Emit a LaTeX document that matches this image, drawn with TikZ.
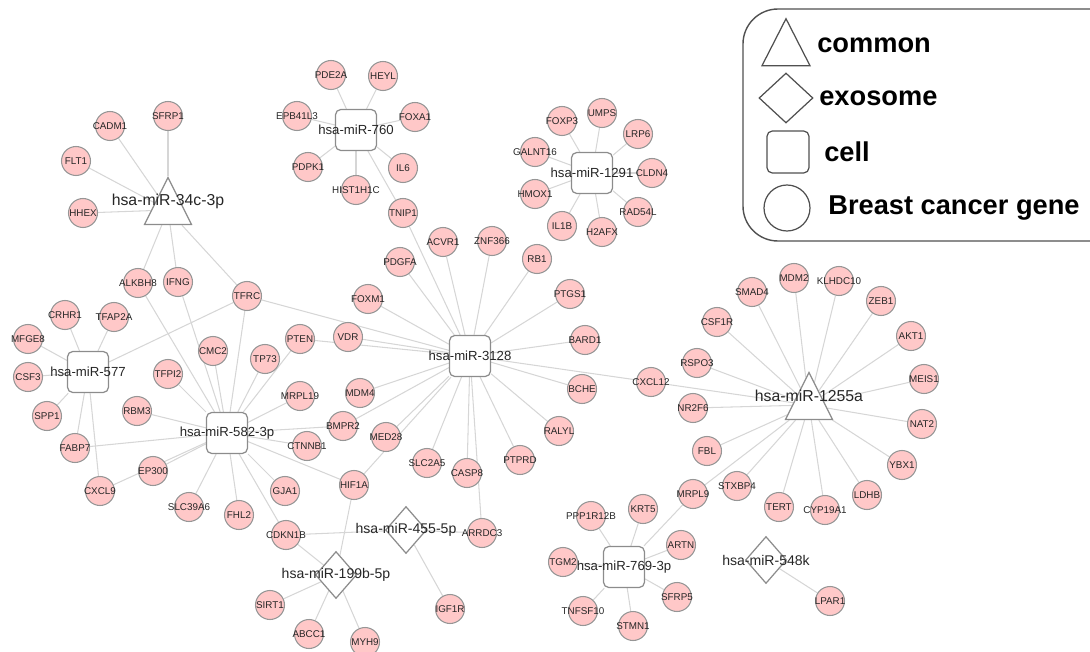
\documentclass[tikz,border=0pt]{standalone}
\usepackage{fontspec}
\setmainfont{Liberation Sans}
\usepackage{tikz}
\usetikzlibrary{shapes.geometric, backgrounds}

\definecolor{genfill}{RGB}{255,200,200}
\definecolor{genline}{RGB}{150,150,150}
\definecolor{tepi}{RGB}{214,214,214}
\definecolor{hubline}{RGB}{140,140,140}
\definecolor{legline}{RGB}{80,80,80}

\begin{document}
\begin{tikzpicture}[
		x=0.02cm, y=-0.02cm,
		gene/.style={circle, draw=genline, fill=genfill, line width=0.6pt, minimum size=0.58cm, inner sep=0pt, label={[gtext]center:#1}},
		gtext/.style={font=\fontsize{5.6}{6}\selectfont, text=black!85, inner sep=0pt},
		cellmir/.style={rectangle, draw=hubline, fill=white, rounded corners=3pt, minimum size=0.82cm, line width=0.7pt, label={[mtext, font=\fontsize{7.5}{8}\selectfont]center:#1}},
		exomir/.style={diamond, draw=hubline, fill=white, minimum width=0.82cm, minimum height=0.94cm, inner sep=0pt, line width=0.7pt, label={[mtext, font=\fontsize{8}{9}\selectfont]center:#1}},
		commonmir/.style={isosceles triangle, isosceles triangle stretches, shape border rotate=90, draw=hubline, fill=white, minimum width=0.94cm, minimum height=0.94cm, inner sep=0pt, line width=0.7pt, label={[mtext, yshift=0.18cm]center:#1}},
		mtext/.style={font=\fontsize{9}{10}\selectfont, text=black!85, inner sep=0pt},
		link/.style={draw=tepi, line width=0.6pt},
		legtext/.style={font=\fontsize{15.5}{16}\selectfont\bfseries, anchor=west, inner sep=0pt}
	]
	\useasboundingbox (0,0) rectangle (1090,652);
	\clip (0,0) rectangle (1090,652);

	% miRNA (hub)
	\node[commonmir=hsa-miR-34c-3p] (m34c) at (168,210) {};
	\node[commonmir=hsa-miR-1255a] (m1255a) at (809,405) {};
	\node[cellmir=hsa-miR-760] (m760) at (356,130) {};
	\node[cellmir=hsa-miR-1291] (m1291) at (592,173) {};
	\node[cellmir=hsa-miR-577] (m577) at (88,372) {};
	\node[cellmir=hsa-miR-582-3p] (m582) at (227,433) {};
	\node[cellmir=hsa-miR-3128] (m3128) at (470,356) {};
	\node[cellmir=hsa-miR-769-3p] (m769) at (624,567) {};
	\node[exomir=hsa-miR-455-5p] (m455) at (406,530) {};
	\node[exomir=hsa-miR-199b-5p] (m199b) at (336,575) {};
	\node[exomir=hsa-miR-548k] (m548k) at (766,560) {};

	% Gen (kiri atas)
	\node[gene=CADM1] (CADM1) at (110,126) {};
	\node[gene=SFRP1] (SFRP1) at (168,116) {};
	\node[gene=FLT1] (FLT1) at (76,161) {};
	\node[gene=HHEX] (HHEX) at (83,213) {};
	\node[gene=ALKBH8] (ALKBH8) at (138,283) {};
	\node[gene=IFNG] (IFNG) at (178,282) {};
	\node[gene=TFRC] (TFRC) at (247,296) {};

	% Gen miR-760
	\node[gene=PDE2A] (PDE2A) at (331,75) {};
	\node[gene=HEYL] (HEYL) at (383,76) {};
	\node[gene=EPB41L3] (EPB41L3) at (297,116) {};
	\node[gene=FOXA1] (FOXA1) at (415,117) {};
	\node[gene=PDPK1] (PDPK1) at (308,167) {};
	\node[gene=IL6] (IL6) at (403,168) {};
	\node[gene=HIST1H1C] (HIST1H1C) at (356,190) {};
	\node[gene=TNIP1] (TNIP1) at (403,213) {};

	% Gen miR-1291
	\node[gene=FOXP3] (FOXP3) at (562,121) {};
	\node[gene=UMPS] (UMPS) at (602,113) {};
	\node[gene=LRP6] (LRP6) at (638,134) {};
	\node[gene=GALNT16] (GALNT16) at (535,152) {};
	\node[gene=CLDN4] (CLDN4) at (652,173) {};
	\node[gene=HMOX1] (HMOX1) at (535,194) {};
	\node[gene=RAD54L] (RAD54L) at (638,212) {};
	\node[gene=IL1B] (IL1B) at (562,226) {};
	\node[gene=H2AFX] (H2AFX) at (602,232) {};

	% Gen miR-3128
	\node[gene=ACVR1] (ACVR1) at (443,242) {};
	\node[gene=ZNF366] (ZNF366) at (492,241) {};
	\node[gene=PDGFA] (PDGFA) at (400,262) {};
	\node[gene=RB1] (RB1) at (537,259) {};
	\node[gene=FOXM1] (FOXM1) at (368,299) {};
	\node[gene=PTGS1] (PTGS1) at (570,294) {};
	\node[gene=VDR] (VDR) at (348,337) {};
	\node[gene=PTEN] (PTEN) at (300,339) {};
	\node[gene=BARD1] (BARD1) at (585,340) {};
	\node[gene=CXCL12] (CXCL12) at (651,382) {};
	\node[gene=BCHE] (BCHE) at (582,389) {};
	\node[gene=MDM4] (MDM4) at (360,393) {};
	\node[gene=BMPR2] (BMPR2) at (343,426) {};
	\node[gene=MED28] (MED28) at (386,437) {};
	\node[gene=RALYL] (RALYL) at (559,431) {};
	\node[gene=SLC2A5] (SLC2A5) at (427,463) {};
	\node[gene=CASP8] (CASP8) at (467,473) {};
	\node[gene=PTPRD] (PTPRD) at (520,460) {};

	% Gen miR-577 / miR-582-3p
	\node[gene=CRHR1] (CRHR1) at (65,315) {};
	\node[gene=TFAP2A] (TFAP2A) at (114,317) {};
	\node[gene=MFGE8] (MFGE8) at (28,339) {};
	\node[gene=CMC2] (CMC2) at (213,351) {};
	\node[gene=TP73] (TP73) at (265,359) {};
	\node[gene=CSF3] (CSF3) at (28,377) {};
	\node[gene=TFPI2] (TFPI2) at (168,374) {};
	\node[gene=MRPL19] (MRPL19) at (300,396) {};
	\node[gene=SPP1] (SPP1) at (47,416) {};
	\node[gene=RBM3] (RBM3) at (137,411) {};
	\node[gene=FABP7] (FABP7) at (75,448) {};
	\node[gene=CTNNB1] (CTNNB1) at (307,446) {};
	\node[gene=EP300] (EP300) at (153,471) {};
	\node[gene=CXCL9] (CXCL9) at (100,491) {};
	\node[gene=GJA1] (GJA1) at (285,491) {};
	\node[gene=SLC39A6] (SLC39A6) at (189,507) {};
	\node[gene=HIF1A] (HIF1A) at (354,485) {};
	\node[gene=FHL2] (FHL2) at (239,515) {};
	\node[gene=CDKN1B] (CDKN1B) at (286,535) {};

	% Gen eksosom (bawah)
	\node[gene=ARRDC3] (ARRDC3) at (482,533) {};
	\node[gene=SIRT1] (SIRT1) at (270,605) {};
	\node[gene=IGF1R] (IGF1R) at (450,609) {};
	\node[gene=ABCC1] (ABCC1) at (309,634) {};
	\node[gene=MYH9] (MYH9) at (365,642) {};
	\node[gene=LPAR1] (LPAR1) at (830,601) {};

	% Gen miR-1255a
	\node[gene=MDM2] (MDM2) at (794,278) {};
	\node[gene=KLHDC10] (KLHDC10) at (839,281) {};
	\node[gene=SMAD4] (SMAD4) at (752,292) {};
	\node[gene=ZEB1] (ZEB1) at (881,301) {};
	\node[gene=CSF1R] (CSF1R) at (717,322) {};
	\node[gene=AKT1] (AKT1) at (911,336) {};
	\node[gene=RSPO3] (RSPO3) at (697,363) {};
	\node[gene=MEIS1] (MEIS1) at (924,379) {};
	\node[gene=NR2F6] (NR2F6) at (693,408) {};
	\node[gene=NAT2] (NAT2) at (922,424) {};
	\node[gene=FBL] (FBL) at (707,451) {};
	\node[gene=YBX1] (YBX1) at (902,465) {};
	\node[gene=STXBP4] (STXBP4) at (737,486) {};
	\node[gene=MRPL9] (MRPL9) at (693,494) {};
	\node[gene=TERT] (TERT) at (779,507) {};
	\node[gene=CYP19A1] (CYP19A1) at (825,510) {};
	\node[gene=LDHB] (LDHB) at (867,495) {};

	% Gen miR-769-3p
	\node[gene=PPP1R12B] (PPP1R12B) at (591,516) {};
	\node[gene=KRT5] (KRT5) at (643,509) {};
	\node[gene=ARTN] (ARTN) at (681,545) {};
	\node[gene=TGM2] (TGM2) at (563,562) {};
	\node[gene=SFRP5] (SFRP5) at (677,597) {};
	\node[gene=TNFSF10] (TNFSF10) at (583,611) {};
	\node[gene=STMN1] (STMN1) at (633,626) {};

	% Garis miRNA ke gen
	\begin{scope}[on background layer]
		\foreach \g in {CADM1,SFRP1,FLT1,HHEX,ALKBH8,IFNG,TFRC}
			\draw[link] (m34c) -- (\g);
		\foreach \g in {PDE2A,HEYL,EPB41L3,FOXA1,PDPK1,IL6,HIST1H1C,TNIP1}
			\draw[link] (m760) -- (\g);
		\foreach \g in {FOXP3,UMPS,LRP6,GALNT16,CLDN4,HMOX1,RAD54L,IL1B,H2AFX}
			\draw[link] (m1291) -- (\g);
		\foreach \g in {CRHR1,TFAP2A,MFGE8,CSF3,SPP1,FABP7,CXCL9,TFRC}
			\draw[link] (m577) -- (\g);
		\foreach \g in {ALKBH8,IFNG,TFRC,CMC2,TP73,PTEN,TFPI2,RBM3,FABP7,EP300,CXCL9,SLC39A6,FHL2,GJA1,CDKN1B,HIF1A,CTNNB1,BMPR2,MRPL19}
			\draw[link] (m582) -- (\g);
		\foreach \g in {TNIP1,PDGFA,ACVR1,ZNF366,RB1,PTGS1,BARD1,CXCL12,BCHE,RALYL,PTPRD,ARRDC3,CASP8,SLC2A5,MED28,HIF1A,BMPR2,MDM4,VDR,PTEN,FOXM1,TFRC}
			\draw[link] (m3128) -- (\g);
		\foreach \g in {MDM2,KLHDC10,SMAD4,ZEB1,CSF1R,AKT1,RSPO3,CXCL12,MEIS1,NR2F6,NAT2,FBL,YBX1,STXBP4,MRPL9,TERT,CYP19A1,LDHB}
			\draw[link] (m1255a) -- (\g);
		\foreach \g in {PPP1R12B,KRT5,ARTN,TGM2,SFRP5,TNFSF10,STMN1,MRPL9}
			\draw[link] (m769) -- (\g);
		\foreach \g in {CDKN1B,ARRDC3,IGF1R}
			\draw[link] (m455) -- (\g);
		\foreach \g in {CDKN1B,HIF1A,SIRT1,ABCC1,MYH9}
			\draw[link] (m199b) -- (\g);
		\draw[link] (m548k) -- (LPAR1);
	\end{scope}

	% Legenda (kanan atas)
	\draw[legline, line width=0.8pt, rounded corners=0.7cm] (743,9) rectangle (1130,241);
	\node[isosceles triangle, isosceles triangle stretches, shape border rotate=90, draw=legline, line width=0.7pt, minimum width=0.96cm, minimum height=0.94cm, inner sep=0pt] (legcommon) at (786,51) {};
	\node[diamond, draw=legline, line width=0.7pt, minimum width=1.08cm, minimum height=1.0cm, inner sep=0pt] (legexo) at (786,98) {};
	\node[rectangle, draw=legline, line width=0.7pt, rounded corners=3pt, minimum size=0.84cm] (legcell) at (788,152) {};
	\node[circle, draw=legline, line width=0.7pt, minimum size=0.92cm, inner sep=0pt] (leggene) at (787,208) {};
	\node[legtext] (tcommon) at (817,45) {common};
	\node[legtext] (texo) at (819,98) {exosome};
	\node[legtext] (tcell) at (824,152) {cell};
	\node[legtext] (tgene) at (828,208) {Breast cancer gene};
\end{tikzpicture}
\end{document}
